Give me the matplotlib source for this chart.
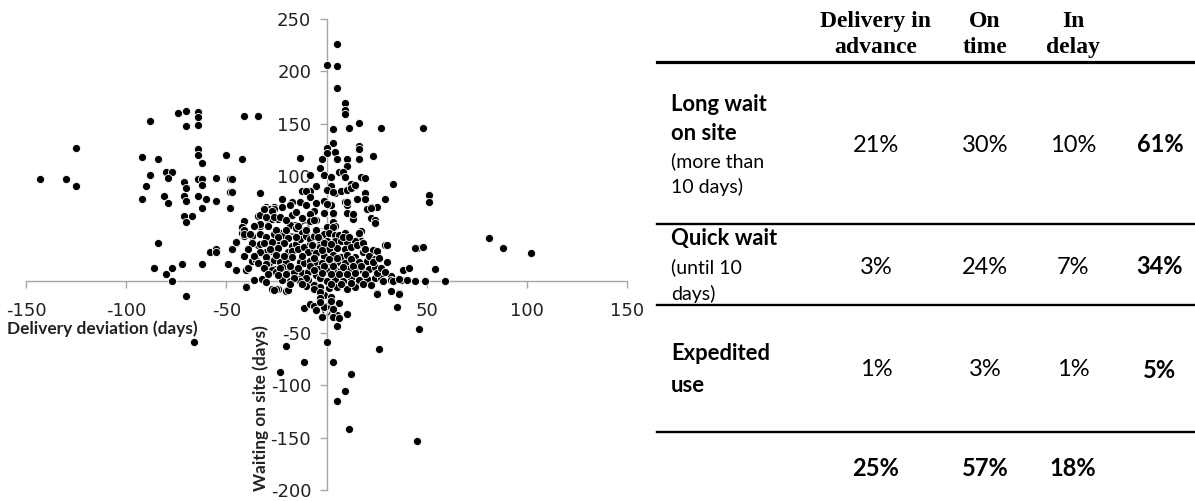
import matplotlib
matplotlib.use("Agg")
import matplotlib.pyplot as plt
from matplotlib.lines import Line2D

# Each delivery: (delivery deviation in days, waiting time on site in days)
early_long_wait = [
    (-143, 97), (-130, 97), (-125, 127), (-125, 90),
    (-92, 118), (-88, 153), (-84, 116), (-88, 101), (-90, 90), (-92, 78),
    (-80, 104), (-77, 104), (-79, 98), (-81, 81), (-79, 74),
    (-74, 160), (-70, 162), (-64, 161), (-64, 156), (-70, 148), (-64, 149),
    (-64, 126), (-64, 120), (-62, 112), (-50, 120), (-42, 116),
    (-71, 94), (-70, 89), (-64, 97), (-62, 97), (-62, 91), (-55, 98), (-48, 97), (-48, 85),
    (-71, 81), (-70, 76), (-64, 81), (-60, 78), (-55, 76), (-62, 69), (-48, 69),
    (-71, 62), (-67, 62), (-70, 56), (-41, 157), (-34, 157), (-47, 97), (-47, 85),
    (-84, 36), (-86, 12), (-80, 6), (-77, 12), (-72, 16), (-77, 0), (-70, -15), (-66, -59),
    (-62, 16), (-58, 27), (-55, 30), (-55, 27), (-49, 16), (-47, 30), (-33, 84),
]

upper_arm = [
    (5, 226), (0, 206), (5, 205), (5, 184), (9, 170), (9, 163), (9, 159),
    (16, 151), (11, 146), (3, 145), (27, 146), (48, 146),
    (3, 132), (0, 127), (16, 129), (16, 126), (0, 122), (4, 123),
    (-2, 116), (5, 116), (10, 116), (16, 116), (23, 119), (-13, 117),
    (-3, 108), (10, 110), (6, 104), (8, 104), (-1, 101), (-8, 101), (2, 99), (9, 99),
    (17, 99), (19, 98), (-5, 90), (2, 90), (14, 90), (12, 92), (33, 92), (-8, 86),
    (-12, 86), (4, 84), (7, 86), (10, 87), (-22, 78), (-17, 75), (-13, 75), (-5, 74),
    (9, 75), (15, 78), (19, 84), (19, 78), (29, 78), (51, 82), (51, 75), (-18, 72),
    (-30, 70), (-26, 70), (2, 72), (22, 70), (25, 70), (-10, 86), (-8, 80), (-10, 72),
    (-6, 67), (-8, 64), (-5, 58), (-1, 65), (-1, 76), (0, 87), (3, 85), (3, 64), (3, 56),
    (4, 52), (10, 72), (12, 89), (14, 91), (13, 62), (13, 59), (17, 47), (16, 43),
    (20, 68), (22, 69), (22, 60), (24, 58), (24, 55), (0, 73), (10, 75), (10, 65),
    (3, 65), (13, 64), (16, 46), (17, 38),
]

core_left = [
    (-41, 57), (-42, 51), (-42, 46), (-41, 43), (-45, 36), (-47, 30), (-49, 16), (-45, 10),
    (-40, 10), (-39, 12), (-37, 19), (-35, 20), (-34, 34), (-33, 35), (-32, 26), (-33, 52),
    (-34, 62), (-33, 63), (-30, 68), (-28, 68), (-26, 68), (-29, 59), (-27, 59), (-24, 59),
    (-29, 52), (-26, 45), (-23, 46), (-21, 44), (-18, 53), (-15, 50), (-14, 52), (-12, 46),
    (-8, 57), (-6, 58), (-17, 63), (-15, 66), (-22, 70), (-25, 38), (-23, 35), (-29, 38),
    (-27, 28), (-30, 27), (-33, 27), (-28, 18), (-26, 20), (-23, 18), (-20, 18), (-17, 33),
    (-15, 35), (-13, 40), (-10, 43), (-19, 27), (-17, 28), (-14, 30), (-11, 32), (-9, 27),
    (-6, 30), (-4, 33), (-13, 18), (-11, 17), (-8, 19), (-5, 18), (-26, 11), (-20, 10),
    (-16, 8), (-12, 7), (-9, 8), (-5, 5), (-32, 2), (-31, 68), (-27, 67), (-30, 61),
    (-26, 61), (-23, 61), (-41, 48), (-41, 45), (-33, 54), (-37, 43), (-33, 45), (-45, 37),
    (-41, 24), (-27, 10), (-25, 8), (-36, 1), (-30, -1), (-22, 1), (-18, 0),
    (-25, 48), (-20, 48), (-10, 48), (-30, 42), (-24, 42), (-19, 41), (-15, 42),
    (-37, 36), (-31, 36), (-27, 37), (-21, 36), (-8, 36), (-39, 30), (-28, 30), (-24, 31),
    (-36, 24), (-30, 23), (-25, 25), (-21, 24), (-17, 23), (-12, 24), (-34, 17), (-30, 16),
    (-22, 13), (-18, 14), (-14, 12), (-31, 12), (-23, 12), (-29, 6), (-24, 5), (-20, 6),
    (-14, 2), (-9, 1), (-10, -5), (-6, -4), (-38, 45), (-36, 52), (-20, 58), (-12, 60),
]

core_center = [
    (0, 51), (3, 51), (-1, 45), (1, 46), (4, 44), (6, 44), (9, 46), (-3, 39), (0, 38),
    (4, 38), (7, 38), (10, 37), (14, 38), (-8, 40), (-6, 43), (-5, 48), (-7, 34), (-3, 32),
    (1, 30), (5, 31), (9, 30), (12, 32), (15, 34), (-5, 26), (-1, 24), (3, 25), (7, 23),
    (10, 25), (14, 23), (18, 27), (-2, 17), (2, 18), (5, 18), (9, 17), (13, 18), (16, 18),
    (20, 19), (23, 18), (-4, 11), (0, 10), (4, 11), (7, 10), (11, 11), (15, 10), (18, 9),
    (21, 11), (-3, 3), (0, 0), (4, 2), (8, 0), (12, 3), (16, 1), (20, 2), (24, 3), (27, 3),
    (-3, -6), (1, -7), (5, -6), (10, -8), (14, -6), (-1, -14), (2, -16), (-10, 3),
    (-13, 0), (-16, 3), (-4, 42), (8, 42), (11, 42), (-1, 36), (2, 35), (18, 36), (-2, 29),
    (19, 30), (23, 29), (1, 21), (5, 22), (12, 21), (21, 24), (-1, 14), (3, 14), (8, 13),
    (13, 14), (17, 14), (24, 13), (-2, 7), (2, 6), (6, 6), (10, 6), (14, 7), (19, 6),
    (25, 7), (2, -3), (7, -3), (12, -2), (18, -3), (22, -4), (-6, 22), (-8, 14), (-6, 10),
]

core_right = [
    (29, 34), (25, 28), (24, 21), (27, 12), (32, 4), (32, 1), (37, 1), (32, -10), (36, -12),
    (35, -25), (40, 1), (38, 10), (41, 12), (45, 31), (48, 32), (49, 0), (54, 11), (59, 0),
    (81, 41), (88, 31), (102, 26), (30, 34), (23, 18), (30, 18), (44, 31), (28, 0),
    (33, 0), (36, 2), (44, 0), (25, -12), (29, 8), (26, 22),
]

late_and_lower = [
    (-40, -5), (-27, -8), (-24, -8), (-20, -10), (-11, -26), (-6, -8), (-3, -11), (-3, -17),
    (-1, -25), (2, -25), (5, -33), (3, -35), (-40, -6), (-25, -8), (-19, -9), (-8, -22),
    (-6, -24), (-3, -20), (-26, -9), (-18, -3), (-12, -3), (-5, -28), (-2, -35), (2, -19),
    (3, -27), (6, -21), (6, -36), (5, -43), (10, -32), (0, -59), (3, -78), (12, -89),
    (9, -105), (5, -115), (11, -142), (45, -153), (46, -46), (26, -65), (-11, -78),
    (-20, -62), (-23, -87), (25, -13), (36, -13),
]

x_ticks = [-150, -100, -50, 0, 50, 100, 150]
y_ticks = [-200, -150, -100, -50, 0, 50, 100, 150, 200, 250]

# Summary table of the same deliveries
col_headers = [("Delivery in", "advance"), ("On", "time"), ("In", "delay")]
row_titles = [("Long wait", "on site"), ("Quick wait",), ("Expedited", "use")]
row_notes = [("(more than", "10 days)"), ("(until 10", "days)"), ()]
shares = [[21, 30, 10], [3, 24, 7], [1, 3, 1]]
row_totals = [61, 34, 5]
col_totals = [25, 57, 18]

SANS = "Lato"
SERIF = "Liberation Serif"

W, H = 1195, 501
fig = plt.figure(figsize=(W / 100, H / 100), dpi=100)
fig.patch.set_facecolor("white")

# ---- scatter with axes crossing at the origin ----
ax = fig.add_axes([26 / W, 11 / H, 601 / W, 471 / H])
points = early_long_wait + upper_arm + core_left + core_center + core_right + late_and_lower
xs = [p[0] for p in points]
ys = [p[1] for p in points]
ax.scatter(xs, ys, s=34, c="black", edgecolors="white", linewidths=0.6,
           zorder=3, clip_on=False)

ax.set_xlim(-150, 150)
ax.set_ylim(-200, 250)
ax.set_xticks(x_ticks)
ax.set_yticks(y_ticks)
ax.set_xticklabels([str(v) for v in x_ticks], fontfamily=SANS)
ax.set_yticklabels([str(v) for v in y_ticks], fontfamily=SANS)
for side in ("top", "right"):
    ax.spines[side].set_visible(False)
for side in ("left", "bottom"):
    ax.spines[side].set_position(("data", 0))
    ax.spines[side].set_color("#a6a6a6")
    ax.spines[side].set_linewidth(1.0)
    ax.spines[side].set_zorder(1)
ax.tick_params(axis="x", direction="out", length=5, width=1, pad=10,
               color="#a6a6a6", labelcolor="#222222", labelsize=13)
ax.tick_params(axis="y", direction="out", length=5, width=1, pad=6,
               color="#a6a6a6", labelcolor="#222222", labelsize=13)
ax.set_axisbelow(True)
ax.patch.set_alpha(0)

ax.text(-111.8, -45.6, "Delivery deviation (days)", fontfamily=SANS,
        fontweight="bold", fontsize=12.4, ha="center", va="center", color="#222222")
ax.text(-33, -122, "Waiting on site (days)", fontfamily=SANS, fontweight="bold",
        fontsize=12.4, ha="center", va="center", rotation=90, color="#222222")

# ---- table drawn in pixel coordinates ----
tab = fig.add_axes([0, 0, 1, 1])
tab.set_xlim(0, W)
tab.set_ylim(H, 0)
tab.axis("off")
tab.patch.set_alpha(0)

col_x = [876, 985, 1073]
total_x = 1160
label_x = 671

for cx, (l1, l2) in zip(col_x, col_headers):
    tab.text(cx, 21, l1, fontfamily=SERIF, fontweight="bold", fontsize=17,
             ha="center", va="center")
    tab.text(cx, 47, l2, fontfamily=SERIF, fontweight="bold", fontsize=17,
             ha="center", va="center")

tab.add_line(Line2D([657, W], [62, 62], color="black", lw=2.3))
for ly in (224, 305, 432):
    tab.add_line(Line2D([657, W], [ly, ly], color="black", lw=1.7))

row_value_y = [145, 267, 370]
title_y = [[104, 133], [239], [354, 385]]
note_y = [[161, 187], [267, 294], []]

for r in range(3):
    for t, ty in zip(row_titles[r], title_y[r]):
        tab.text(label_x, ty, t, fontfamily=SANS, fontweight="bold", fontsize=15.8,
                 ha="left", va="center")
    for t, ty in zip(row_notes[r], note_y[r]):
        tab.text(label_x, ty, t, fontfamily=SANS, fontsize=14, ha="left", va="center")
    for cx, v in zip(col_x, shares[r]):
        tab.text(cx, row_value_y[r], f"{v}%", fontfamily=SANS, fontsize=17,
                 ha="center", va="center")
    tab.text(total_x, row_value_y[r], f"{row_totals[r]}%", fontfamily=SANS,
             fontweight="bold", fontsize=17, ha="center", va="center")

for cx, v in zip(col_x, col_totals):
    tab.text(cx, 468, f"{v}%", fontfamily=SANS, fontweight="bold", fontsize=17,
             ha="center", va="center")

fig.savefig("out.png", dpi=100, facecolor="white")
